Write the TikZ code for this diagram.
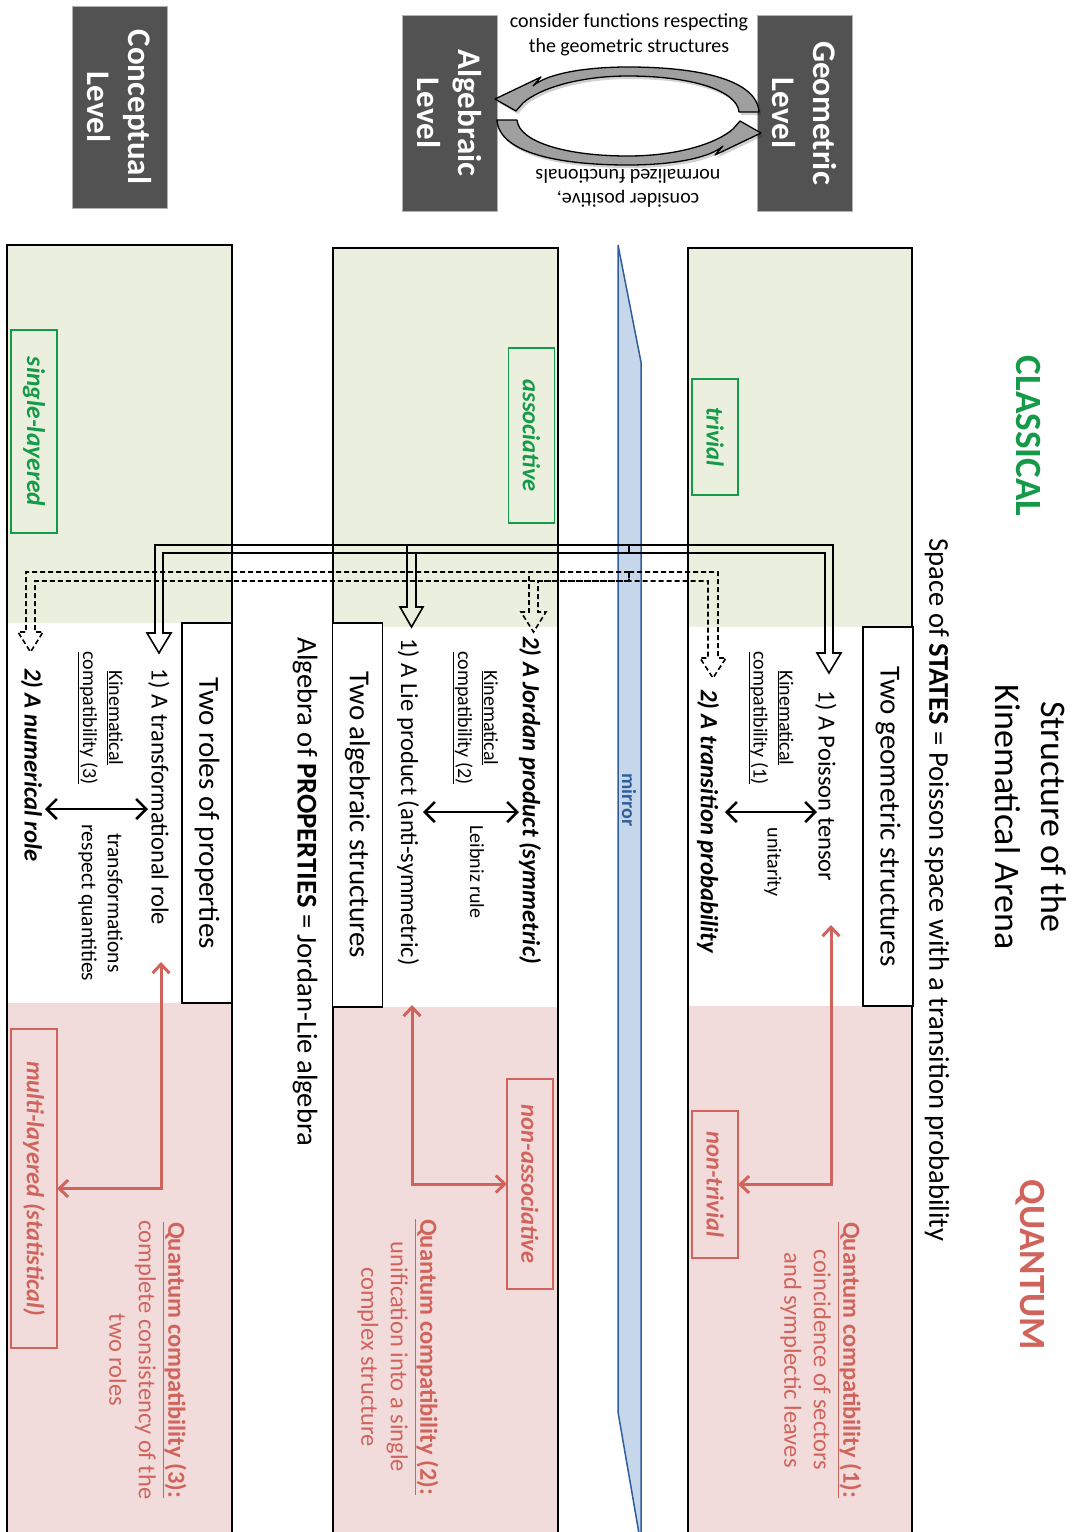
\documentclass[tikz,border=0pt]{standalone}
\usepackage{fontspec}
\setmainfont{Carlito}
\usetikzlibrary{arrows.meta}
\definecolor{cgreen}{HTML}{EBEFDD}
\definecolor{cpink}{HTML}{F2DCDB}
\definecolor{gtext}{HTML}{149A48}
\definecolor{rtext}{HTML}{D0645C}
\definecolor{mfill}{HTML}{C6D6EB}
\definecolor{mline}{HTML}{2F5E9B}
\definecolor{dbox}{HTML}{525252}
\newcommand\fsz[2]{\fontsize{#1}{#2}\selectfont}
\begin{document}
\begin{tikzpicture}[x=1pt,y=-1pt,
  rot/.style={rotate=-90, inner sep=0pt, outer sep=0pt, align=center},
  levelbox/.style={rot, fill=dbox, draw=gray!60, line width=1pt, text=white, font=\fsz{33}{41}\bfseries, minimum height=95pt},
  tagbox/.style={rot, line width=1.3pt, font=\fsz{24.5}{29}\bfseries\itshape, minimum height=46pt},
  greentag/.style={tagbox, draw=gtext, text=gtext},
  redtag/.style={tagbox, draw=rtext, text=rtext},
  titlebox/.style={rot, draw=black, line width=1.8pt, fill=white, font=\fsz{29}{34}, minimum height=50pt},
  itemtext/.style={rot, font=\fsz{24.5}{30}},
  bolditem/.style={rot, font=\fsz{24.7}{30}\bfseries\itshape},
  smalltext/.style={rot, font=\fsz{20}{26}},
  qcomp/.style={rot, text=rtext, font=\fsz{24.5}{29.5}},
  panel/.style={draw=black, line width=1.3pt},
  pipe/.style={line width=1.6pt, line join=miter},
  dpipe/.style={pipe, dash pattern=on 5pt off 3pt},
  twohead/.style={line width=2.6pt, {Straight Barb[length=10pt,width=20pt]}-{Straight Barb[length=10pt,width=20pt]}},
  redarr/.style={draw=rtext, line width=3pt, {Straight Barb[length=9pt,width=17pt]}-{Straight Barb[length=9pt,width=17pt]}},
  cyclearrow/.style={fill=gray!75, draw=black, line width=1.3pt, line join=round},
  cycleshadow/.style={fill=black, opacity=0.18}
]
\useasboundingbox (0,0) rectangle (1077,1532);
\clip (0,0) rectangle (1077,1532);

% ---------- panels ----------
% right (states)
\fill[cgreen] (688,248) rectangle (912,627);
\fill[white] (688,627) rectangle (912,1006);
\fill[cpink] (688,1006) rectangle (912,1545);
\draw[panel] (688,248) rectangle (912,1545);
% middle (algebraic)
\fill[cgreen] (333,248) rectangle (558,627);
\fill[white] (333,627) rectangle (558,1007);
\fill[cpink] (333,1007) rectangle (558,1545);
\draw[panel] (333,248) rectangle (558,1545);
% left (conceptual)
\fill[cgreen] (7,245) rectangle (232,623);
\fill[white] (7,623) rectangle (232,1003);
\fill[cpink] (7,1003) rectangle (232,1545);
\draw[panel] (7,245) rectangle (232,1545);

% ---------- mirror ----------
\draw[fill=mfill, draw=mline, line width=1.5pt, line join=miter] (618,245) -- (641,362) -- (641,1545) -- (618,1412) -- cycle;
\node[rot, text=mline, font=\fsz{20}{24}\bfseries] (mirrortext) at (629,800) {mirror};

% ---------- hollow pipes from the mirror ----------
\coordinate (hubS) at (629,545);
\coordinate (hubD) at (629,572);
% solid: to Poisson tensor, Lie product, transformational role
\draw[pipe] (hubS) -- (833,545) -- (833,653) -- (841,653) -- (829,673) -- (817,653) -- (825,653) -- (825,553) -- (629,553) -- cycle;
\draw[pipe] (hubS) -- (155,545) -- (155,633) -- (147,633) -- (159,653) -- (171,633) -- (163,633) -- (163,553) -- (629,553) -- cycle;
\draw[pipe] (hubS) -- (407,545) -- (407,607) -- (400,607) -- (411.5,627) -- (423,607) -- (416,607) -- (416,553) -- (629,553) -- cycle;
% dashed: to transition probability, Jordan product, numerical role
\draw[dpipe] (hubD) -- (718,572) -- (718,658) -- (726,658) -- (713,678) -- (700,658) -- (708,658) -- (708,581) -- (629,581) -- cycle;
\draw[dpipe] (hubD) -- (26,572) -- (26,632) -- (18,632) -- (30.5,652) -- (43,632) -- (35,632) -- (35,581) -- (629,581) -- cycle;
\draw[dpipe] (hubD) -- (529,572) -- (529,612) -- (521,612) -- (533.5,632) -- (546,612) -- (538,612) -- (538,581) -- (629,581) -- cycle;

% ---------- top: levels ----------
\node[levelbox, minimum width=202pt] (concept) at (119.5,107) {Conceptual\\Level};
\node[levelbox, minimum width=196pt] (algebraic) at (449.5,113) {Algebraic\\Level};
\node[levelbox, minimum width=196pt] (geometric) at (804.5,113) {Geometric\\Level};
\node[align=center, font=\fsz{20}{25}, inner sep=0pt] (postext) at (629,35) {consider functions respecting\\the geometric structures};
\node[rotate=180, align=center, font=\fsz{20}{24}, inner sep=0pt] (negtext) at (628,188) {consider positive,\\normalized functionals};
% curved arrows (soft shadow, then shape)
\path[cycleshadow, shift={(2,3)}] (759,112) .. controls (757,80) and (700,67) .. (628,67)
  .. controls (580,67) and (545,75) .. (533,86) -- (541,77) -- (495,99) -- (516,111) -- (523,103)
  .. controls (540,88) and (580,76) .. (628,76) .. controls (690,76) and (737,90) .. (739,112) -- cycle;
\path[cycleshadow, rotate around={180:(628,116)}, shift={(-2,-3)}] (759,112) .. controls (757,80) and (700,67) .. (628,67)
  .. controls (580,67) and (545,75) .. (533,86) -- (541,77) -- (495,99) -- (516,111) -- (523,103)
  .. controls (540,88) and (580,76) .. (628,76) .. controls (690,76) and (737,90) .. (739,112) -- cycle;
\path[cyclearrow] (759,112) .. controls (757,80) and (700,67) .. (628,67)
  .. controls (580,67) and (545,75) .. (533,86) -- (541,77) -- (495,99) -- (516,111) -- (523,103)
  .. controls (540,88) and (580,76) .. (628,76) .. controls (690,76) and (737,90) .. (739,112) -- cycle;
\path[cyclearrow, rotate around={180:(628,116)}] (759,112) .. controls (757,80) and (700,67) .. (628,67)
  .. controls (580,67) and (545,75) .. (533,86) -- (541,77) -- (495,99) -- (516,111) -- (523,103)
  .. controls (540,88) and (580,76) .. (628,76) .. controls (690,76) and (737,90) .. (739,112) -- cycle;

% ---------- titles ----------
\node[rot, font=\fsz{36}{46}] (title) at (1031,817) {Structure of the\\Kinematical Arena};
\node[rot, font=\fsz{37}{44}\bfseries, text=gtext] (classical) at (1028,436) {CLASSICAL};
\node[rot, font=\fsz{37}{44}\bfseries, text=rtext] (quantum) at (1030,1265) {QUANTUM};
\node[rot, font=\fsz{28.6}{32}] (states) at (937,890) {Space of \textbf{STATES} = Poisson space with a transition probability};
\node[rot, font=\fsz{28.6}{32}] (props) at (305,892) {Algebra of \textbf{PROPERTIES} = Jordan-Lie algebra};

% ---------- right panel ----------
\node[greentag, minimum width=116pt] (trivial) at (715,437) {trivial};
\node[titlebox, minimum width=379pt] (geostruct) at (888,816.5) {Two geometric structures};
\node[itemtext] (poisson) at (826,786) {1) A Poisson tensor};
\node[smalltext] (kin1) at (771,718) {\underline{Kinematical}\\\underline{compatibility (1)}};
\node[smalltext] (unit) at (773,862) {unitarity};
\node[bolditem] (transprob) at (708,821) {2) A transition probability};
\draw[twohead] (725,812) coordinate (tw1a) -- (817,812) coordinate (tw1b);
\node[redtag, minimum width=147pt] (nontrivial) at (715,1184.5) {non-trivial};
\coordinate (r1) at (831,925);
\draw[redarr] (r1) |- (nontrivial.north);
\node[qcomp] (q1) at (821,1360) {\textbf{\underline{Quantum compatibility (1):}}\\coincidence of sectors\\and symplectic leaves};

% ---------- middle panel ----------
\node[greentag, minimum width=175pt] (assoc) at (531.5,435.5) {associative};
\node[titlebox, minimum width=384pt] (algstruct) at (357.5,815) {Two algebraic structures};
\node[bolditem] (jordan) at (530,800) {2) A Jordan product (symmetric)};
\node[smalltext] (kin2) at (475.5,718) {\underline{Kinematical}\\\underline{compatibility (2)}};
\node[smalltext] (leib) at (477,872) {Leibniz rule};
\node[itemtext] (lie) at (408,802) {1) A Lie product (anti-symmetric)};
\draw[twohead] (423,812) coordinate (tw2a) -- (519,812) coordinate (tw2b);
\node[redtag, minimum width=210pt] (nonassoc) at (530,1184) {non-associative};
\coordinate (r2) at (412,1005);
\draw[redarr] (r2) |- (nonassoc.south);
\node[qcomp] (q2) at (398,1357) {\textbf{\underline{Quantum compatibility (2):}}\\unification into a single\\complex structure};

% ---------- left panel ----------
\node[greentag, minimum width=203pt, font=\fsz{25.5}{29}\bfseries\itshape] (single) at (34,431.5) {single-layered};
\node[titlebox, minimum width=380pt] (roles) at (207,813) {Two roles of properties};
\node[itemtext] (transf) at (159,797) {1) A transformational role};
\node[smalltext] (kin3) at (100.5,718) {\underline{Kinematical}\\\underline{compatibility (3)}};
\node[smalltext, font=\fsz{21.5}{26}] (resp) at (100.5,903) {transformations\\respect quantities};
\node[bolditem] (numer) at (32,765) {2) A numerical role};
\draw[twohead] (45,809) coordinate (tw3a) -- (148,809) coordinate (tw3b);
\node[redtag, minimum width=319pt] (multi) at (34,1188.5) {multi-layered (statistical)};
\coordinate (r3) at (161,962);
\draw[redarr] (r3) |- (multi.north);
\node[qcomp] (q3) at (148,1360) {\textbf{\underline{Quantum compatibility (3):}}\\complete consistency of the\\two roles};
\end{tikzpicture}
\end{document}
